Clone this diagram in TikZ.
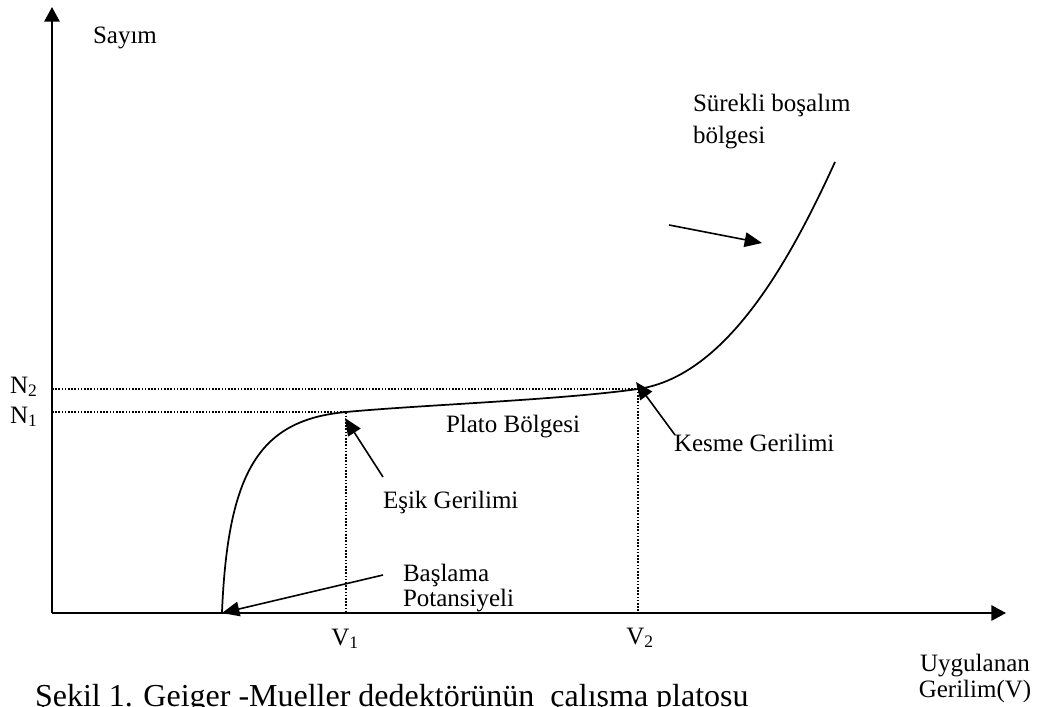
\documentclass[tikz,border=0pt]{standalone}
\usepackage{fontspec}
\setmainfont{Liberation Serif}
\usetikzlibrary{arrows.meta}
\begin{document}
\begin{tikzpicture}[x=0.75pt,y=-0.75pt,
  lbl/.style={font=\fontsize{18.75}{22}\selectfont, inner sep=0pt, outer sep=0pt},
  capt/.style={font=\fontsize{24}{28}\selectfont, inner sep=0pt, outer sep=0pt},
  axisline/.style={line width=1.5pt, -{Triangle[length=11pt,width=11.5pt]}},
  annarrow/.style={line width=1.2pt, -{Triangle[length=13pt,width=11pt]}},
  guide/.style={line width=1.1pt, dash pattern=on 1.2pt off 1.2pt},
  curveline/.style={line width=1.3pt}]
\useasboundingbox (0,0) rectangle (1041,706);
% axes
\coordinate (O) at (52,613);
\coordinate (ytop) at (52,7);
\coordinate (xend) at (1006,613);
\draw[axisline] (O) -- (ytop);
\draw[axisline] (O) -- (xend);
% key points on curve
\coordinate (start) at (222,612);
\coordinate (P1) at (346,412);
\coordinate (P2) at (638,389);
\coordinate (cend) at (835,162);
% guide lines
\coordinate (N1y) at (52,412);
\coordinate (N2y) at (52,389);
\coordinate (V1x) at (346,613);
\coordinate (V2x) at (638,613);
\draw[guide] (N2y) -- (P2) -- (V2x);
\draw[guide] (N1y) -- (P1) -- (V1x);
% curve
\draw[curveline] (start) .. controls (228,470) and (260,420) .. (P1)
  .. controls (420,405) and (560,400) .. (P2)
  .. controls (728,376) and (792,256) .. (cend);
% labels
\node[lbl, anchor=base west] (sayim) at (93,44) {Sayım};
\node[lbl, anchor=base west] (n2) at (10,393) {N\textsubscript{2}};
\node[lbl, anchor=base west] (n1) at (10,423) {N\textsubscript{1}};
\node[lbl, anchor=base] (v1) at (345,645) {V\textsubscript{1}};
\node[lbl, anchor=base] (v2) at (640,644) {V\textsubscript{2}};
\node[lbl, anchor=base] (uyg) at (975,671) {Uygulanan};
\node[lbl, anchor=base] (ger) at (975,697) {Gerilim(V)};
\node[lbl, anchor=base west] (sur1) at (693,112) {Sürekli boşalım};
\node[lbl, anchor=base west] (sur2) at (693,143) {bölgesi};
\node[lbl, anchor=base west] (plato) at (446,432) {Plato Bölgesi};
\node[lbl, anchor=base west] (kesme) at (674,451) {Kesme Gerilimi};
\node[lbl, anchor=base west] (esik) at (383,508) {Eşik Gerilimi};
\node[lbl, anchor=base west] (bas1) at (403,581) {Başlama};
\node[lbl, anchor=base west] (bas2) at (403,606) {Potansiyeli};
\node[capt, anchor=base west] (caption) at (35,706) {Şekil 1. Geiger -Mueller dedektörünün\ \ çalışma platosu};
% annotation arrows
\coordinate (a1s) at (669,225);
\coordinate (a1t) at (762,243);
\coordinate (a2s) at (675,435);
\coordinate (a2t) at (636,382);
\coordinate (a3s) at (383,477);
\coordinate (a3t) at (345,418);
\coordinate (a4s) at (383,575);
\coordinate (a4t) at (222,613);
\draw[annarrow] (a1s) -- (a1t);
\draw[annarrow] (a2s) -- (a2t);
\draw[annarrow] (a3s) -- (a3t);
\draw[annarrow] (a4s) -- (a4t);
\end{tikzpicture}
\end{document}
